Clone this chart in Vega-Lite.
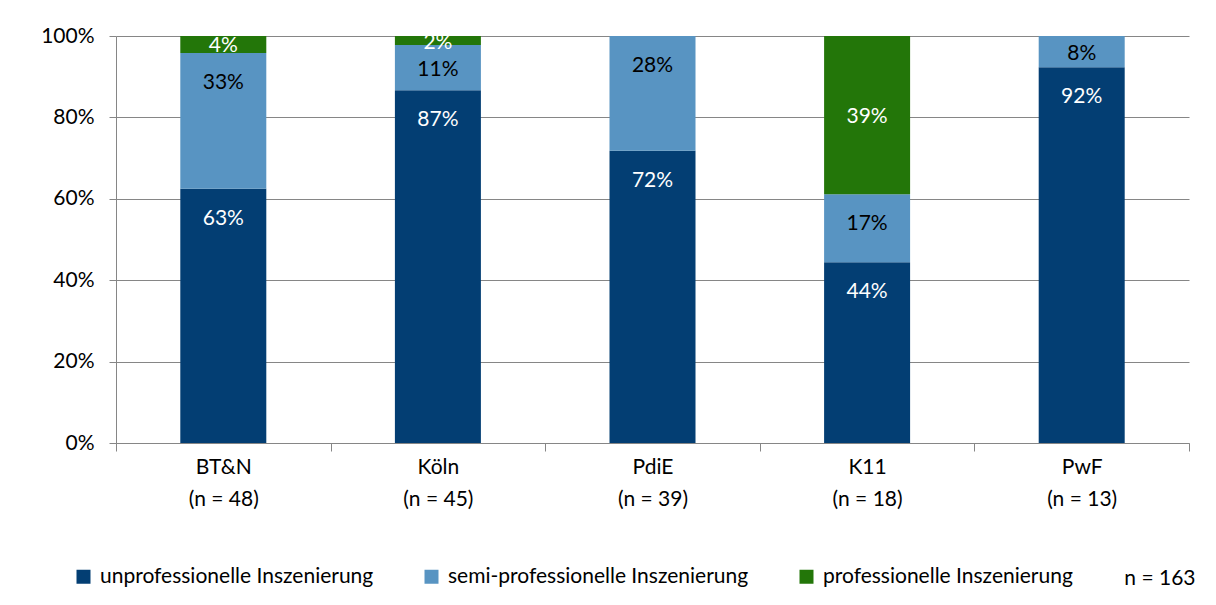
{
  "$schema": "https://vega.github.io/schema/vega-lite/v6.json",
  "width": 1073,
  "height": 407,
  "autosize": "none",
  "padding": {"left": 116, "top": 36, "right": 27, "bottom": 162},
  "background": "white",
  "config": {"font": "Lato", "view": {"stroke": null}},
  "title": {"text": "n = 163", "orient": "bottom", "anchor": "end", "fontSize": 21, "fontWeight": "normal", "color": "#000000", "offset": -19, "dx": 6},
  "data": {"values": [
    {"cat": "BT&N|(n = 48)", "series": "unprofessionelle Inszenierung", "order": 1, "value": 62.5},
    {"cat": "BT&N|(n = 48)", "series": "semi-professionelle Inszenierung", "order": 2, "value": 33.33},
    {"cat": "BT&N|(n = 48)", "series": "professionelle Inszenierung", "order": 3, "value": 4.17},
    {"cat": "Köln|(n = 45)", "series": "unprofessionelle Inszenierung", "order": 1, "value": 86.67},
    {"cat": "Köln|(n = 45)", "series": "semi-professionelle Inszenierung", "order": 2, "value": 11.11},
    {"cat": "Köln|(n = 45)", "series": "professionelle Inszenierung", "order": 3, "value": 2.22},
    {"cat": "PdiE|(n = 39)", "series": "unprofessionelle Inszenierung", "order": 1, "value": 71.79},
    {"cat": "PdiE|(n = 39)", "series": "semi-professionelle Inszenierung", "order": 2, "value": 28.21},
    {"cat": "PdiE|(n = 39)", "series": "professionelle Inszenierung", "order": 3, "value": 0},
    {"cat": "K11|(n = 18)", "series": "unprofessionelle Inszenierung", "order": 1, "value": 44.44},
    {"cat": "K11|(n = 18)", "series": "semi-professionelle Inszenierung", "order": 2, "value": 16.67},
    {"cat": "K11|(n = 18)", "series": "professionelle Inszenierung", "order": 3, "value": 38.89},
    {"cat": "PwF|(n = 13)", "series": "unprofessionelle Inszenierung", "order": 1, "value": 92.31},
    {"cat": "PwF|(n = 13)", "series": "semi-professionelle Inszenierung", "order": 2, "value": 7.69},
    {"cat": "PwF|(n = 13)", "series": "professionelle Inszenierung", "order": 3, "value": 0}
  ]},
  "layer": [
    {
      "mark": {"type": "bar", "size": 86},
      "encoding": {
        "x": {"field": "cat", "type": "nominal", "sort": null,
          "scale": {"paddingInner": 0, "paddingOuter": 0},
          "axis": {"title": null, "labelExpr": "split(datum.label, '|')", "labelAngle": 0, "labelFontSize": 21, "labelColor": "#000000", "labelLineHeight": 32, "labelPadding": 5, "tickBand": "extent", "tickSize": 8, "tickColor": "#868686", "domainColor": "#868686", "grid": false}},
        "y": {"field": "value", "type": "quantitative", "stack": "zero",
          "scale": {"domain": [0, 100]},
          "axis": {"title": null, "values": [0, 20, 40, 60, 80, 100], "labelExpr": "datum.value + '%'", "labelFontSize": 21, "labelColor": "#000000", "tickSize": 7, "labelPadding": 15, "tickColor": "#868686", "domainColor": "#868686", "gridColor": "#868686", "grid": true}},
        "color": {"field": "series", "type": "nominal",
          "scale": {"domain": ["unprofessionelle Inszenierung", "semi-professionelle Inszenierung", "professionelle Inszenierung"], "range": ["#033E73", "#5894C2", "#237609"]},
          "legend": {"orient": "none", "legendX": -43, "legendY": 530, "direction": "horizontal", "title": null, "symbolType": "square", "symbolSize": 196, "symbolStrokeWidth": 0, "labelFontSize": 21, "labelColor": "#000000", "labelOffset": 6, "labelLimit": 0, "columnPadding": 47}},
        "order": {"field": "order"}
      }
    },
    {
      "transform": [
        {"filter": "datum.value > 0"},
        {"stack": "value", "groupby": ["cat"], "sort": [{"field": "order"}], "as": ["y0", "y1"]},
        {"calculate": "datum.series === 'professionelle Inszenierung' ? (datum.y0 + datum.y1) / 2 : max(datum.y1 - 6.9, (datum.y0 + datum.y1) / 2)", "as": "ly"},
        {"calculate": "round(datum.value) + '%'", "as": "lbl"}
      ],
      "mark": {"type": "text", "fontSize": 21, "baseline": "middle", "dy": 2},
      "encoding": {
        "x": {"field": "cat", "type": "nominal", "sort": null},
        "y": {"field": "ly", "type": "quantitative"},
        "text": {"field": "lbl"},
        "color": {"condition": {"test": "datum.series === 'semi-professionelle Inszenierung'", "value": "#000000"}, "value": "#ffffff"}
      }
    }
  ]
}
